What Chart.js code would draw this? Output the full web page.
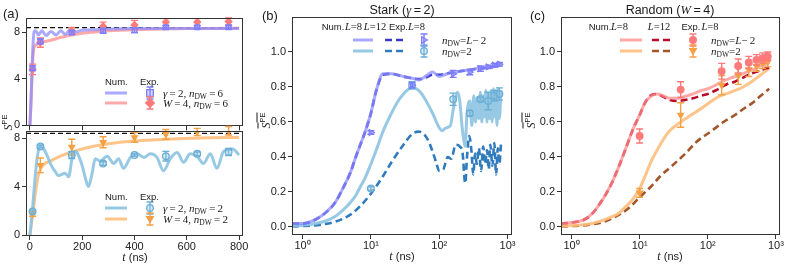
<!DOCTYPE html>
<html>
<head>
<meta charset="utf-8">
<script src="https://cdn.jsdelivr.net/npm/chart.js@4.4.1/dist/chart.umd.min.js"></script>
<style>
  body { margin: 0; background: #fff; }
  #fig { position: relative; width: 789px; height: 265px; overflow: hidden; }
  #fig canvas { position: absolute; }
  .t { position: absolute; white-space: nowrap; font-family: "Liberation Sans", Arial, sans-serif; font-size: 9.5px; line-height: 12px; color: #1a1a1a; }
  .m { font-family: "Liberation Serif", "DejaVu Serif", serif; font-size: 11px; }
  .h { font-family: "Liberation Serif", "DejaVu Serif", serif; font-size: 10.5px; }
  .m sub { font-size: 7.5px; vertical-align: -2px; line-height: 0; }
  sup { font-size: 7.5px; vertical-align: 5px; line-height: 0; font-family: "Liberation Sans", Arial, sans-serif; }
  .it { font-family: "Liberation Serif", "DejaVu Serif", serif; font-style: italic; }
</style>
</head>
<body>
<div id="fig">
  <canvas id="aTop" width="250" height="135" style="left:0;top:0"></canvas>
  <canvas id="aBot" width="250" height="143" style="left:0;top:122px"></canvas>
  <canvas id="b" width="255" height="265" style="left:262px;top:0"></canvas>
  <canvas id="c" width="255" height="265" style="left:531px;top:0"></canvas>
  <svg id="lg" width="789" height="265" style="position:absolute;left:0;top:0"></svg>
</div>
<script>
// ---- data ----
const EXP_T = [10, 40, 160, 280, 400, 520, 640, 760];
const PAGE_VALUE = 8.38;
const A_X_TICKS = [0, 200, 400, 600, 800];
const A_Y_TICKS = [0, 4, 8];
const BC_Y_TICKS = [0, 0.2, 0.4, 0.6, 0.8, 1.0];
const LOG_TICKS = [1, 10, 100, 1000];
const LOG_TICK_LABELS = ['10\u2070', '10\u00b9', '10\u00b2', '10\u00b3'];

// (a) upper, n_DW = 6
const aStark6T = [0, 4, 8, 12, 16, 22, 32, 46, 62, 80, 100, 118, 135, 152, 170, 200, 250, 300, 400, 500, 600, 700, 800];
const aStark6S = [0, 2, 4.8, 7.0, 8.05, 8.1, 7.75, 8.1, 7.7, 8.05, 7.75, 8.1, 7.8, 8.15, 8.0, 8.15, 8.2, 8.25, 8.3, 8.3, 8.3, 8.3, 8.3];
const aRand6T = [0, 4, 8, 12, 16, 20, 30, 50, 80, 120, 160, 200, 250, 300, 400, 500, 600, 700, 800];
const aRand6S = [0, 1.8, 4.2, 6.0, 6.7, 6.85, 7.0, 7.15, 7.3, 7.55, 7.75, 7.9, 8.0, 8.1, 8.2, 8.25, 8.3, 8.3, 8.32];
const aStark6Exp = [4.9, 7.2, 7.95, 8.1, 8.15, 8.4, 8.4, 8.4];
const aStark6Err = [0.2, 0.2, 0.15, 0.2, 0.2, 0.15, 0.15, 0.15];
const aRand6Exp = [4.8, 7.1, 8.1, 8.5, 8.6, 8.85, 8.85, 8.9];
const aRand6Err = [0.45, 0.4, 0.3, 0.35, 0.4, 0.3, 0.3, 0.3];

// (a) lower, n_DW = 2
const aStark2T = [0, 5, 10, 15, 20, 28, 39, 50, 65, 80, 95, 109, 122, 135, 148, 161, 173, 185, 200, 212, 224, 237, 250, 269, 295, 321, 339, 358, 384, 410, 436, 461, 486, 511, 537, 563, 588, 613, 639, 664, 690, 715, 741, 775, 800];
const aStark2S = [0, 1.0, 2.2, 3.5, 4.8, 6.4, 7.4, 7.2, 6.6, 5.8, 5.3, 4.9, 5.0, 5.1, 4.8, 6.3, 6.9, 6.6, 5.7, 4.7, 4.0, 5.0, 6.3, 6.1, 6.5, 5.9, 6.3, 5.5, 6.4, 6.7, 6.4, 6.7, 6.4, 5.3, 6.3, 6.8, 6.0, 6.7, 6.5, 5.9, 6.7, 5.5, 6.9, 7.1, 6.6];
const aRand2T = [0, 5, 10, 14, 20, 33, 52, 78, 116, 167, 218, 295, 397, 524, 652, 800];
const aRand2S = [0, 0.8, 1.6, 2.2, 3.3, 5.0, 5.8, 6.1, 6.5, 6.9, 7.2, 7.5, 7.75, 7.9, 8.0, 8.05];
const aStark2Exp = [1.95, 7.3, 6.6, 5.9, 6.6, 6.5, 6.7, 6.85];
const aStark2Err = [0.1, 0.1, 0.3, 0.15, 0.1, 0.4, 0.15, 0.3];
const aRand2Exp = [1.75, 5.75, 7.25, 7.65, 8.05, 8.3, 8.5, 8.6];
const aRand2Err = [0.2, 0.6, 0.65, 0.45, 0.4, 0.4, 0.3, 0.35];

// (b) Stark, gamma = 2
const bFarT = [0.7, 1, 1.5, 2, 3, 4, 5, 6, 7, 8, 9, 10, 12, 15, 20, 30, 40, 51, 65, 80, 100, 120, 140, 170, 200, 250, 300, 400, 500, 600, 700, 800];
const bFarL8 = [0.02, 0.02, 0.04, 0.07, 0.14, 0.23, 0.31, 0.40, 0.47, 0.53, 0.59, 0.65, 0.78, 0.875, 0.875, 0.86, 0.85, 0.84, 0.865, 0.885, 0.86, 0.87, 0.88, 0.885, 0.89, 0.895, 0.90, 0.91, 0.915, 0.92, 0.925, 0.93];
const bFarL12 = [0.02, 0.02, 0.04, 0.07, 0.14, 0.23, 0.31, 0.40, 0.47, 0.53, 0.59, 0.65, 0.78, 0.87, 0.875, 0.86, 0.85, 0.845, 0.855, 0.87, 0.87, 0.875, 0.88, 0.885, 0.89, 0.895, 0.90, 0.905, 0.91, 0.915, 0.92, 0.925];
const bNearL8T = [0.7, 1, 2, 3, 4, 5, 6, 7, 8, 10, 12, 15, 20, 25, 30, 35, 41, 50, 60, 80, 99, 110, 124, 146, 160, 175, 186, 200, 215, 228, 240, 252, 265, 280, 300, 320, 340, 360, 380, 400, 420, 440, 460, 480, 500, 520, 545, 570, 595, 620, 645, 670, 700, 730, 760, 800];
const bNearL8 = [0.005, 0.01, 0.03, 0.06, 0.10, 0.14, 0.18, 0.23, 0.27, 0.36, 0.44, 0.545, 0.65, 0.72, 0.76, 0.785, 0.795, 0.78, 0.74, 0.65, 0.57, 0.55, 0.565, 0.58, 0.67, 0.74, 0.77, 0.72, 0.58, 0.50, 0.46, 0.62, 0.70, 0.72, 0.58, 0.75, 0.60, 0.74, 0.62, 0.77, 0.60, 0.75, 0.63, 0.78, 0.60, 0.76, 0.62, 0.78, 0.60, 0.79, 0.63, 0.78, 0.58, 0.79, 0.62, 0.78];
const bNearL12T = [0.7, 1, 2, 3, 5, 7, 10, 15, 20, 30, 40, 50, 60, 70, 80, 90, 100, 115, 133, 150, 174, 200, 220, 240, 255, 275, 295, 315, 335, 355, 380, 410, 440, 470, 500, 530, 560, 600, 640, 680, 720, 760, 800];
const bNearL12 = [0.003, 0.005, 0.015, 0.03, 0.07, 0.12, 0.19, 0.29, 0.37, 0.47, 0.53, 0.545, 0.53, 0.49, 0.43, 0.37, 0.32, 0.33, 0.40, 0.39, 0.47, 0.46, 0.42, 0.25, 0.40, 0.52, 0.44, 0.30, 0.42, 0.36, 0.45, 0.32, 0.46, 0.36, 0.44, 0.33, 0.47, 0.35, 0.48, 0.30, 0.45, 0.36, 0.47];
const bFarExp = [0.54, 0.81, 0.875, 0.885, 0.905, 0.915, 0.925, 0.93];
const bFarErr = [0.01, 0.015, 0.02, 0.015, 0.015, 0.01, 0.01, 0.01];
const bNearExp = [0.22, 0.81, 0.73, 0.65, 0.73, 0.72, 0.75, 0.76];
const bNearErr = [0.01, 0.02, 0.035, 0.015, 0.01, 0.05, 0.03, 0.035];

// (c) Random, W = 4
const cFarT = [0.7, 1, 1.5, 2, 3, 4, 5, 6, 7, 8, 10, 12, 15, 18, 22, 28, 35, 45, 60, 80, 100, 130, 160, 200, 250, 300, 400, 500, 600, 700, 800];
const cFarL8 = [0.02, 0.025, 0.04, 0.075, 0.17, 0.26, 0.35, 0.43, 0.50, 0.56, 0.64, 0.71, 0.75, 0.76, 0.75, 0.735, 0.735, 0.745, 0.76, 0.78, 0.79, 0.81, 0.83, 0.845, 0.86, 0.87, 0.89, 0.905, 0.92, 0.93, 0.94];
const cFarL12 = [0.02, 0.025, 0.04, 0.075, 0.17, 0.26, 0.35, 0.43, 0.50, 0.56, 0.64, 0.71, 0.755, 0.76, 0.745, 0.725, 0.72, 0.725, 0.735, 0.75, 0.76, 0.78, 0.80, 0.82, 0.83, 0.845, 0.87, 0.885, 0.895, 0.905, 0.91];
const cNearL8T = [0.7, 1, 2, 3, 4, 5, 6, 7, 8, 10, 12, 15, 20, 27, 40, 60, 82, 110, 144, 200, 250, 330, 440, 600, 800];
const cNearL8 = [0.005, 0.008, 0.02, 0.04, 0.06, 0.08, 0.11, 0.135, 0.16, 0.22, 0.29, 0.38, 0.47, 0.545, 0.60, 0.645, 0.68, 0.715, 0.745, 0.765, 0.78, 0.80, 0.83, 0.87, 0.905];
const cNearL12T = [0.7, 1, 2, 3, 5, 7, 10, 15, 20, 30, 47, 70, 115, 170, 251, 350, 440, 600, 800];
const cNearL12 = [0.003, 0.005, 0.015, 0.03, 0.07, 0.11, 0.17, 0.235, 0.29, 0.35, 0.42, 0.49, 0.55, 0.60, 0.64, 0.68, 0.705, 0.75, 0.79];
const cFarExp = [0.52, 0.785, 0.89, 0.92, 0.94, 0.955, 0.965, 0.975];
const cFarErr = [0.04, 0.045, 0.045, 0.04, 0.035, 0.03, 0.03, 0.025];
const cNearExp = [0.195, 0.64, 0.81, 0.865, 0.90, 0.92, 0.935, 0.945];
const cNearErr = [0.025, 0.07, 0.055, 0.05, 0.04, 0.03, 0.03, 0.03];

// ---- colours ----
const LAVENDER = 'rgba(140,140,255,0.75)', LAVENDER_MK = '#7d7dff';
const DARKBLUE = '#3a3ac8';
const LIGHTBLUE = 'rgba(140,195,225,0.9)', LIGHTBLUE_MK = '#6aaed6';
const MIDBLUE = '#2f7bbd';
const PINK = 'rgba(255,140,140,0.75)', PINK_MK = '#ff7a7a';
const DARKRED = '#b80d2a';
const ORANGE = 'rgba(255,190,125,0.9)', ORANGE_MK = '#f5a043';
const BROWN = '#a3562a';

const SANS = '"Liberation Sans", Arial, sans-serif';
const zip = (ts, ys) => ts.map((t, i) => ({ x: t, y: ys[i] }));

function lineSet(ts, ys, color, dashed) {
  return {
    data: zip(ts, ys), showLine: true, pointRadius: 0, borderColor: color,
    borderWidth: dashed ? 2.6 : 3, borderDash: dashed ? [7, 4] : [],
    cubicInterpolationMode: 'monotone', order: 2
  };
}
function expSet(vals, errs, style, color, fill, rot) {
  return {
    data: zip(EXP_T, vals), errs: errs, errColor: color, showLine: false,
    pointStyle: style, rotation: rot || 0, pointRadius: 3.3, pointBorderWidth: 1.3,
    borderColor: color, backgroundColor: fill, order: 1
  };
}

// error bars, reference line and frame
const extras = {
  id: 'extras',
  beforeDatasetsDraw(chart, args, opts) {
    const { ctx, chartArea: a, scales: { y } } = chart;
    (opts.hlines || []).forEach(v => {
      const py = y.getPixelForValue(v);
      ctx.save();
      ctx.strokeStyle = '#111'; ctx.lineWidth = 1.3; ctx.setLineDash([5, 3]);
      ctx.beginPath(); ctx.moveTo(a.left, py); ctx.lineTo(a.right, py); ctx.stroke();
      ctx.restore();
    });
  },
  beforeDatasetDraw(chart, args) {
    const ds = chart.data.datasets[args.index];
    if (!ds.errs) return;
    const { ctx, scales: { x, y } } = chart;
    ctx.save();
    ctx.strokeStyle = ds.errColor; ctx.lineWidth = 1.4;
    ds.data.forEach((p, j) => {
      const px = x.getPixelForValue(p.x);
      const lo = y.getPixelForValue(p.y - ds.errs[j]);
      const hi = y.getPixelForValue(p.y + ds.errs[j]);
      ctx.beginPath();
      ctx.moveTo(px, lo); ctx.lineTo(px, hi);
      ctx.moveTo(px - 3.5, lo); ctx.lineTo(px + 3.5, lo);
      ctx.moveTo(px - 3.5, hi); ctx.lineTo(px + 3.5, hi);
      ctx.stroke();
    });
    ctx.restore();
  },
  afterDraw(chart) {
    const { ctx, chartArea: a } = chart;
    ctx.save();
    ctx.strokeStyle = '#333'; ctx.lineWidth = 1;
    ctx.strokeRect(Math.round(a.left) + 0.5, Math.round(a.top) + 0.5, Math.round(a.width) - 1, Math.round(a.height) - 1);
    ctx.restore();
  }
};
Chart.register(extras);

const GRID = { drawOnChartArea: false, drawTicks: true, tickLength: 4, color: '#333', tickColor: '#333' };

function yAxis(min, max, ticks, width, fmt) {
  return {
    type: 'linear', min: min, max: max,
    afterBuildTicks: s => { s.ticks = ticks.map(v => ({ value: v })); },
    afterFit: s => { s.width = width; },
    ticks: { font: { family: SANS, size: 11 }, color: '#222', padding: 2, callback: fmt },
    grid: GRID, border: { display: false }
  };
}
function xLinear(showLabels, height) {
  return {
    type: 'linear', min: -15, max: 815,
    afterBuildTicks: s => { s.ticks = A_X_TICKS.map(v => ({ value: v })); },
    afterFit: s => { s.height = height; },
    ticks: { display: showLabels, font: { family: SANS, size: 11 }, color: '#222', padding: 0 },
    grid: GRID, border: { display: false }
  };
}
function xLog() {
  return {
    type: 'logarithmic', min: 0.7, max: 1150,
    afterBuildTicks: s => { s.ticks = LOG_TICKS.map(v => ({ value: v })); },
    afterFit: s => { s.height = 30; },
    ticks: { font: { family: SANS, size: 11 }, color: '#222', padding: 0, maxRotation: 0,
             callback: (v, i) => LOG_TICK_LABELS[i] },
    grid: GRID, border: { display: false }
  };
}

function makeChart(id, datasets, xs, ys, pad, hlines) {
  return new Chart(document.getElementById(id), {
    type: 'scatter',
    data: { datasets: datasets },
    options: {
      responsive: false, animation: false, devicePixelRatio: 1,
      layout: { padding: pad },
      plugins: { legend: { display: false }, tooltip: { enabled: false }, extras: { hlines: hlines || [] } },
      scales: { x: xs, y: ys }
    }
  });
}

const intFmt = v => String(v);
const decFmt = v => v.toFixed(1);

makeChart('aTop', [
  lineSet(aStark6T, aStark6S, LAVENDER),
  lineSet(aRand6T, aRand6S, PINK),
  expSet(aStark6Exp, aStark6Err, 'rect', LAVENDER_MK, 'rgba(140,140,255,0.35)'),
  expSet(aRand6Exp, aRand6Err, 'rectRot', PINK_MK, PINK_MK)
], xLinear(false, 7), yAxis(-0.085, 9.2, A_Y_TICKS, 26, intFmt),
  { top: 18, right: 7, left: 0, bottom: 0 }, [PAGE_VALUE]);

makeChart('aBot', [
  lineSet(aStark2T, aStark2S, LIGHTBLUE),
  lineSet(aRand2T, aRand2S, ORANGE),
  expSet(aStark2Exp, aStark2Err, 'circle', LIGHTBLUE_MK, 'rgba(140,195,225,0.35)'),
  expSet(aRand2Exp, aRand2Err, 'triangle', ORANGE_MK, ORANGE_MK, 180)
], xLinear(true, 29), yAxis(-0.08, 8.58, A_Y_TICKS, 26, intFmt),
  { top: 9, right: 7, left: 0, bottom: 0 }, [PAGE_VALUE]);

makeChart('b', [
  lineSet(bFarT, bFarL8, LAVENDER),
  lineSet(bFarT, bFarL12, DARKBLUE, true),
  lineSet(bNearL8T, bNearL8, LIGHTBLUE),
  lineSet(bNearL12T, bNearL12, MIDBLUE, true),
  expSet(bFarExp, bFarErr, 'triangle', LAVENDER_MK, 'rgba(140,140,255,0.35)', 90),
  expSet(bNearExp, bNearErr, 'circle', LIGHTBLUE_MK, 'rgba(140,195,225,0.35)')
], xLog(), yAxis(-0.046, 1.2, BC_Y_TICKS, 30, decFmt),
  { top: 17, right: 5, left: 0, bottom: 0 });

makeChart('c', [
  lineSet(cFarT, cFarL8, PINK),
  lineSet(cFarT, cFarL12, DARKRED, true),
  lineSet(cNearL8T, cNearL8, ORANGE),
  lineSet(cNearL12T, cNearL12, BROWN, true),
  expSet(cFarExp, cFarErr, 'circle', PINK_MK, PINK_MK),
  expSet(cNearExp, cNearErr, 'triangle', ORANGE_MK, ORANGE_MK, 180)
], xLog(), yAxis(-0.046, 1.2, BC_Y_TICKS, 30, decFmt),
  { top: 17, right: 6, left: 0, bottom: 0 });

// ---- text and legends ----
const fig = document.getElementById('fig');
function txt(html, x, yc, opts) {
  opts = opts || {};
  const d = document.createElement('div');
  d.className = 't' + (opts.cls ? ' ' + opts.cls : '');
  d.innerHTML = html;
  d.style.left = x + 'px';
  d.style.top = (yc - 6) + 'px';
  if (opts.size) d.style.fontSize = opts.size + 'px';
  if (opts.center) d.style.transform = 'translateX(-50%)';
  if (opts.rotate) d.style.transform = 'translate(-50%,0) rotate(-90deg)';
  fig.appendChild(d);
  return d;
}
const NS = 'http://www.w3.org/2000/svg';
const svg = document.getElementById('lg');
function el(tag, attrs) {
  const e = document.createElementNS(NS, tag);
  for (const k in attrs) e.setAttribute(k, attrs[k]);
  svg.appendChild(e);
  return e;
}
function sample(x1, x2, y, color, dashed) {
  el('line', { x1: x1, x2: x2, y1: y, y2: y, stroke: color, 'stroke-width': dashed ? 2.6 : 3,
    'stroke-dasharray': dashed ? '7 4' : 'none' });
}
function mark(x, y, shape, color, fill) {
  el('path', { d: `M${x} ${y - 6}V${y + 6}M${x - 3.5} ${y - 6}H${x + 3.5}M${x - 3.5} ${y + 6}H${x + 3.5}`,
    stroke: color, 'stroke-width': 1.4, fill: 'none' });
  const r = 3.3;
  let d;
  if (shape === 'rect') d = `M${x - r} ${y - r}h${2 * r}v${2 * r}h${-2 * r}Z`;
  else if (shape === 'diamond') d = `M${x} ${y - r - 1}L${x + r + 1} ${y}L${x} ${y + r + 1}L${x - r - 1} ${y}Z`;
  else if (shape === 'down') d = `M${x - r} ${y - r + 1}L${x + r} ${y - r + 1}L${x} ${y + r}Z`;
  else if (shape === 'right') d = `M${x - r + 1} ${y - r}L${x + r} ${y}L${x - r + 1} ${y + r}Z`;
  if (shape === 'circle') el('circle', { cx: x, cy: y, r: r, stroke: color, 'stroke-width': 1.3, fill: fill });
  else el('path', { d: d, stroke: color, 'stroke-width': 1.3, fill: fill });
}

const EQ = '\u2009=\u2009';
const nDW = '<i>n</i><sub>DW</sub>';

// panel labels and titles
txt('(a)', 3, 14, { size: 13 });
txt('(b)', 262, 16, { size: 13 });
txt('(c)', 530, 16, { size: 13 });
txt('Stark (<span class="it">\u03b3</span>' + EQ + '2)', 402, 10, { size: 12.5, center: true });
txt('Random (<span class="it">W</span>' + EQ + '4)', 670, 10, { size: 12.5, center: true });

// axis titles
const T_LABEL = '<span class="it" style="font-size:12px">t</span> (ns)';
txt(T_LABEL, 135, 257, { size: 11, center: true });
txt(T_LABEL, 402, 256, { size: 11, center: true });
txt(T_LABEL, 670, 256, { size: 11, center: true });
txt('<span class="it" style="font-size:12px">S</span><sup>PE</sup>', 8, 122, { rotate: true });
const S_BAR = '<span style="text-decoration:overline"><span class="it" style="font-size:12px">S</span><sup>PE</sup></span>';
txt(S_BAR, 266, 120, { rotate: true });
txt(S_BAR, 531, 120, { rotate: true });

// (a) legends
txt('Num.', 105, 82); txt('Exp.', 140, 82);
sample(105, 127, 93, LAVENDER); sample(105, 127, 103, PINK);
mark(150, 93, 'rect', LAVENDER_MK, 'rgba(140,140,255,0.35)');
mark(150, 103, 'diamond', PINK_MK, PINK_MK);
txt('<i>\u03b3</i>' + EQ + '2, ' + nDW + EQ + '6', 163, 93, { cls: 'm' });
txt('<i>W</i>' + EQ + '4, ' + nDW + EQ + '6', 163, 103, { cls: 'm' });

txt('Num.', 105, 197); txt('Exp.', 140, 197);
sample(105, 127, 208, LIGHTBLUE); sample(105, 127, 219, ORANGE);
mark(150, 208, 'circle', LIGHTBLUE_MK, 'rgba(140,195,225,0.35)');
mark(150, 219, 'down', ORANGE_MK, ORANGE_MK);
txt('<i>\u03b3</i>' + EQ + '2, ' + nDW + EQ + '2', 163, 208, { cls: 'm' });
txt('<i>W</i>' + EQ + '4, ' + nDW + EQ + '2', 163, 219, { cls: 'm' });

// (b) legend
txt('Num.', 333, 27, { center: true });
txt('<i>L</i>=8', 353.5, 27, { cls: 'h', center: true });
txt('<i>L</i>=12', 375, 27, { cls: 'h', center: true });
txt('Exp.', 398.5, 27, { center: true });
txt('<i>L</i>=8', 416.5, 27, { cls: 'h', center: true });
sample(353, 373, 40, LAVENDER); sample(385, 407, 40, DARKBLUE, true);
sample(353, 373, 51, LIGHTBLUE); sample(385, 407, 51, MIDBLUE, true);
mark(424, 40, 'right', LAVENDER_MK, 'rgba(140,140,255,0.35)');
mark(424, 51, 'circle', LIGHTBLUE_MK, 'rgba(140,195,225,0.35)');
txt(nDW + '=<i>L</i>\u2212\u20092', 442, 40, { cls: 'm' });
txt(nDW + '=2', 442, 51, { cls: 'm' });

// (c) legend
txt('Num.', 600, 27, { center: true });
txt('<i>L</i>=8', 619.5, 27, { cls: 'h', center: true });
txt('<i>L</i>=12', 659, 27, { cls: 'h', center: true });
txt('Exp.', 691, 27, { center: true });
txt('<i>L</i>=8', 710, 27, { cls: 'h', center: true });
sample(620, 642, 40, PINK); sample(652, 673, 40, DARKRED, true);
sample(620, 642, 51, ORANGE); sample(652, 673, 51, BROWN, true);
mark(693, 40, 'circle', PINK_MK, PINK_MK);
mark(693, 51, 'down', ORANGE_MK, ORANGE_MK);
txt(nDW + '=<i>L</i>\u2212\u20092', 711, 40, { cls: 'm' });
txt(nDW + '=2', 711, 51, { cls: 'm' });
</script>
</body>
</html>
